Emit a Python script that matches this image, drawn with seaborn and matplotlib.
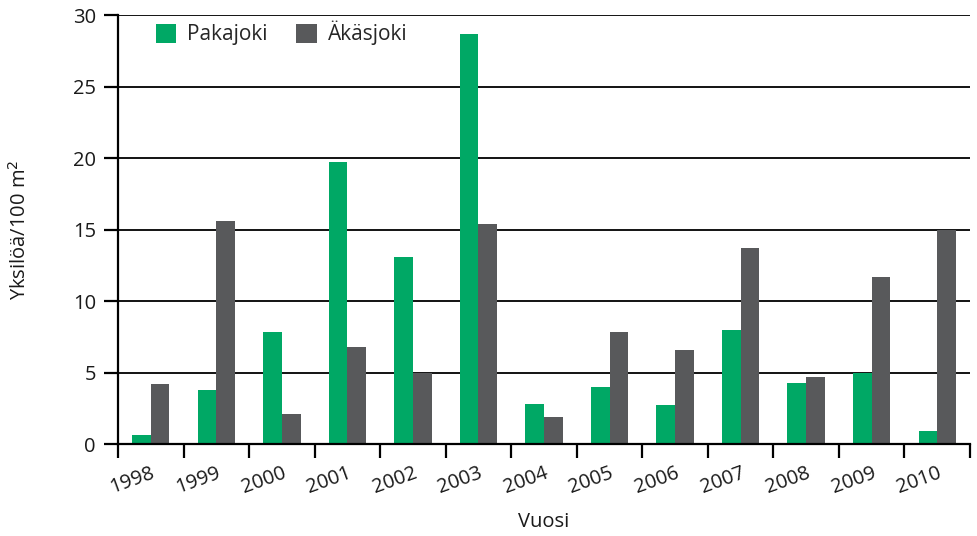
import pandas as pd
import seaborn as sns
import matplotlib.pyplot as plt

# Values (individuals per 100 m2)
years = ['1998', '1999', '2000', '2001', '2002', '2003', '2004',
         '2005', '2006', '2007', '2008', '2009', '2010']
pakajoki = [0.6, 3.8, 7.8, 19.7, 13.1, 28.7, 2.8, 4.0, 2.7, 8.0, 4.3, 5.0, 0.9]
akasjoki = [4.2, 15.6, 2.1, 6.8, 5.0, 15.4, 1.9, 7.8, 6.6, 13.7, 4.7, 11.7, 15.0]
series = ['Pakajoki', 'Äkäsjoki']
colors = ['#00a865', '#58595b']

df = pd.DataFrame({
    'Vuosi': years * 2,
    'Arvo': pakajoki + akasjoki,
    'Joki': [series[0]] * len(years) + [series[1]] * len(years),
})

sns.set_style('white')
plt.rcParams['font.family'] = ['Open Sans', 'DejaVu Sans']

fig = plt.figure(figsize=(9.77, 5.36), dpi=100)
ax = fig.add_axes([0.1208, 0.1716, 0.872, 0.8004])

sns.barplot(data=df, x='Vuosi', y='Arvo', hue='Joki', palette=colors,
            width=0.57, saturation=1, linewidth=0, edgecolor='none', ax=ax)

ax.set_xlim(-0.5, len(years) - 0.5)
ax.set_ylim(0, 30)
ax.set_yticks(range(0, 31, 5))
ax.yaxis.grid(True, color='black', linewidth=1.3)
ax.set_axisbelow(True)

for side in ['top', 'right']:
    ax.spines[side].set_visible(False)
for side in ['left', 'bottom']:
    ax.spines[side].set_color('black')
    ax.spines[side].set_linewidth(1.6)

# tick marks between the year groups, labels under the groups
ax.set_xticks([i - 0.5 for i in range(len(years) + 1)], minor=True)
ax.tick_params(axis='x', which='minor', bottom=True, length=10, width=1.6,
               color='black', direction='out')
ax.tick_params(axis='x', which='major', bottom=True, length=0, pad=14)
ax.tick_params(axis='y', left=True, length=10, width=1.6, color='black',
               direction='out', pad=6)
ax.tick_params(labelsize=14.5, labelcolor='#1a1a1a')
for lbl in ax.get_xticklabels():
    lbl.set_rotation(20)
    lbl.set_ha('right')
    lbl.set_rotation_mode('anchor')

ax.set_xlabel('Vuosi', fontsize=14.5, color='#1a1a1a', labelpad=10)
ax.set_ylabel('Yksilöä/100 m$^2$', fontsize=14.5, color='#1a1a1a', labelpad=30)

ax.legend(title=None, frameon=False, ncol=2, loc='upper left',
          bbox_to_anchor=(0.022, 1.03), fontsize=15, handlelength=1.0,
          handleheight=1.0, columnspacing=1.4, handletextpad=0.5)

plt.savefig('out.png', dpi=100)
